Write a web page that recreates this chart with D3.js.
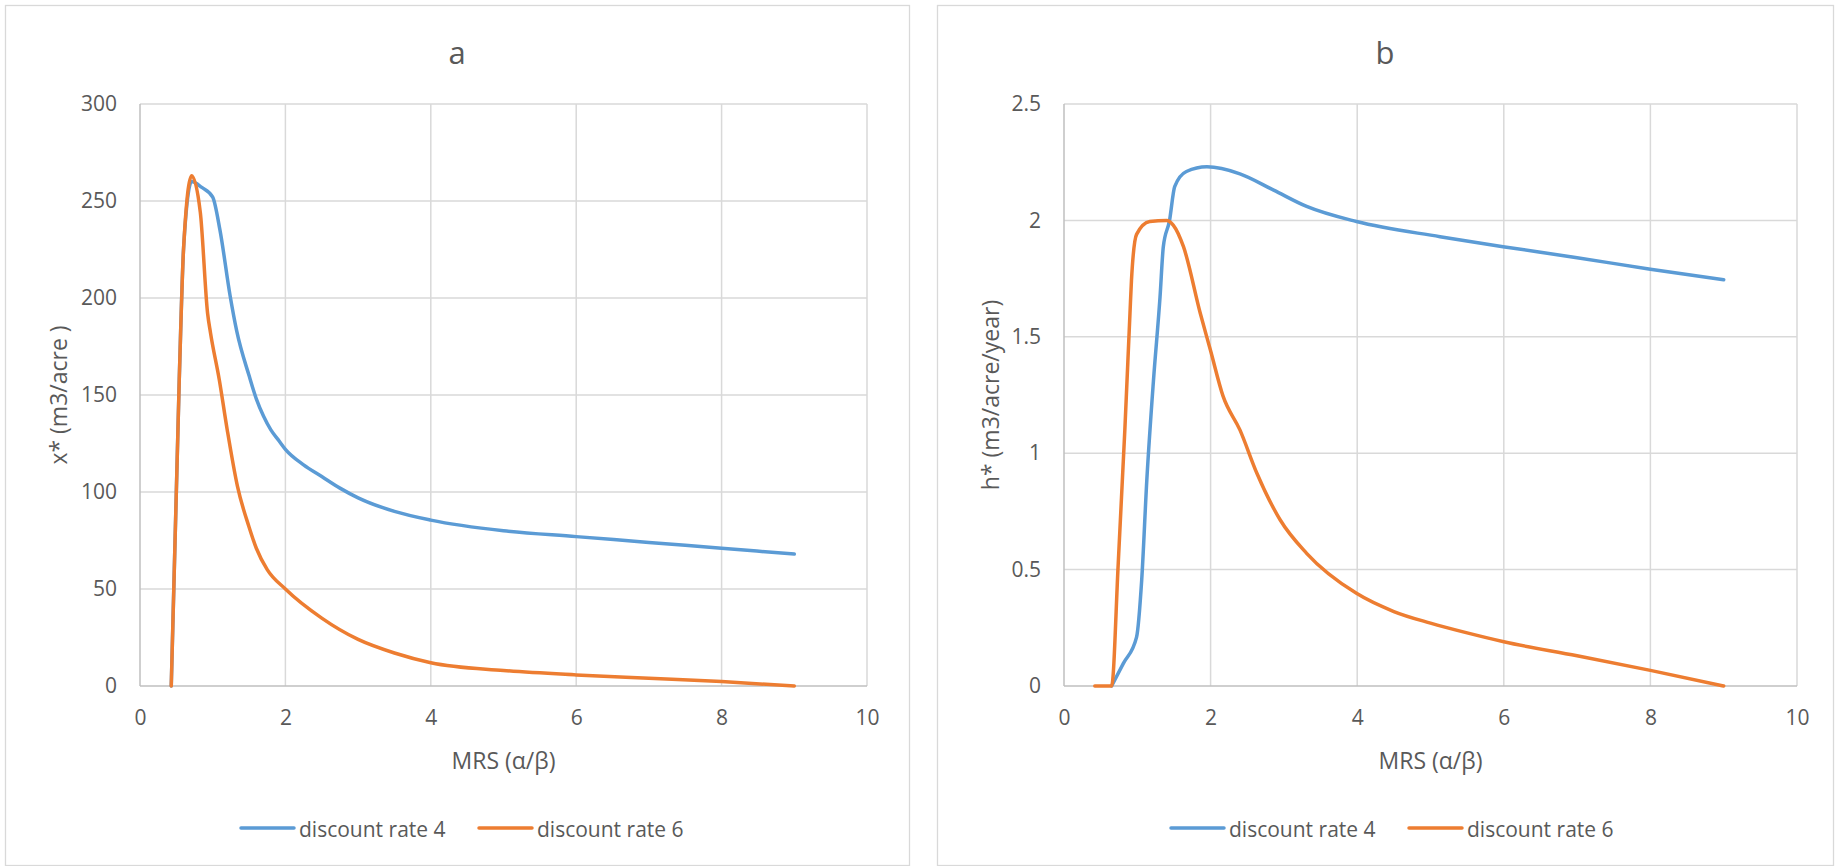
<!DOCTYPE html>
<html>
<head>
<meta charset="utf-8">
<script src="https://cdn.jsdelivr.net/npm/d3@7"></script>
<style>
  html, body { margin: 0; padding: 0; background: #ffffff; }
  svg { display: block; }
  text { font-family: "Open Sans", "Noto Sans", sans-serif; fill: #595959; }
</style>
</head>
<body>
<svg id="chart" width="1838" height="866"></svg>
<script>
// ---------- data ----------
const seriesNames = ["discount rate 4", "discount rate 6"];
const seriesColors = ["#5B9BD5", "#ED7D31"];
const xTicks = [0, 2, 4, 6, 8, 10];
const yTicksA = [0, 50, 100, 150, 200, 250, 300];
const yTicksB = [0, 0.5, 1, 1.5, 2, 2.5];

// panel a: x* (m3/acre)
const aRate4X = [0.43, 0.54, 0.6, 0.71, 0.85, 1.0, 1.1, 1.24, 1.33, 1.5, 1.6, 1.7, 1.8, 1.9, 2.0, 2.25, 2.5, 2.75, 3.0, 3.5, 4.0, 5.0, 6.0, 7.0, 8.0, 9.0];
const aRate4Y = [0, 158, 226, 260, 257, 252, 235, 201, 183, 160, 148, 139, 132, 127, 122, 114, 108, 102, 97, 90, 85.5, 80, 77, 74, 71, 68];
const aRate6X = [0.43, 0.54, 0.6, 0.71, 0.83, 0.93, 0.97, 1.09, 1.2, 1.34, 1.5, 1.6, 1.75, 2.0, 2.5, 3.0, 3.5, 4.0, 5.0, 6.0, 7.0, 8.0, 9.0];
const aRate6Y = [0, 158, 226, 263, 244, 192, 182, 158, 132, 103, 82, 71, 60, 50, 35, 24, 17, 12, 8, 5.7, 4, 2.3, 0];

// panel b: h* (m3/acre/year)
const bRate4X = [0.65, 0.81, 0.99, 1.06, 1.13, 1.22, 1.31, 1.355, 1.44, 1.51, 1.67, 1.95, 2.4, 2.86, 3.31, 3.99, 5.13, 5.99, 7.0, 8.0, 9.0];
const bRate4Y = [0, 0.097, 0.21, 0.455, 0.885, 1.31, 1.67, 1.887, 2.0, 2.145, 2.21, 2.23, 2.20, 2.13, 2.06, 1.995, 1.93, 1.887, 1.84, 1.79, 1.745];
const bRate6X = [0.42, 0.65, 0.74, 0.83, 0.9, 0.92, 0.99, 1.17, 1.4, 1.49, 1.63, 1.86, 2.0, 2.17, 2.4, 2.63, 2.95, 3.31, 3.99, 4.5, 5.0, 5.5, 6.0, 7.0, 8.0, 9.0];
const bRate6Y = [0, 0, 0.527, 1.10, 1.60, 1.74, 1.94, 1.995, 2.0, 1.98, 1.887, 1.60, 1.44, 1.245, 1.10, 0.915, 0.713, 0.57, 0.398, 0.32, 0.27, 0.228, 0.19, 0.13, 0.067, 0];

const panels = [
  { title: "a", yTitle: "x* (m3/acre )", yTicks: yTicksA, yMax: 300,
    box: { x: 5, y: 5, w: 904, h: 860 },
    plot: { l: 140, r: 867, t: 104, b: 686 },
    series: [ {x: aRate4X, y: aRate4Y}, {x: aRate6X, y: aRate6Y} ],
    legendX: 241 },
  { title: "b", yTitle: "h* (m3/acre/year)", yTicks: yTicksB, yMax: 2.5,
    box: { x: 937, y: 5, w: 896, h: 860 },
    plot: { l: 1064, r: 1797, t: 104, b: 686 },
    series: [ {x: bRate4X, y: bRate4Y}, {x: bRate6X, y: bRate6Y} ],
    legendX: 1171 }
];

const svg = d3.select("#chart");

panels.forEach(p => {
  const g = svg.append("g");
  // chart border
  g.append("rect")
    .attr("x", p.box.x + 0.5).attr("y", p.box.y + 0.5)
    .attr("width", p.box.w).attr("height", p.box.h)
    .attr("fill", "#ffffff").attr("stroke", "#d9d9d9").attr("stroke-width", 1.3);

  const x = d3.scaleLinear().domain([0, 10]).range([p.plot.l, p.plot.r]);
  const y = d3.scaleLinear().domain([0, p.yMax]).range([p.plot.b, p.plot.t]);

  // gridlines
  g.append("g").selectAll("line.h").data(p.yTicks.filter(d => d !== 0)).join("line")
    .attr("x1", p.plot.l).attr("x2", p.plot.r)
    .attr("y1", d => y(d)).attr("y2", d => y(d))
    .attr("stroke", "#d9d9d9").attr("stroke-width", 1.5);
  g.append("g").selectAll("line.v").data(xTicks.filter(d => d !== 0)).join("line")
    .attr("x1", d => x(d)).attr("x2", d => x(d))
    .attr("y1", p.plot.t).attr("y2", p.plot.b)
    .attr("stroke", "#d9d9d9").attr("stroke-width", 1.5);
  // axis lines
  g.append("line").attr("x1", p.plot.l).attr("x2", p.plot.l)
    .attr("y1", p.plot.t).attr("y2", p.plot.b)
    .attr("stroke", "#bfbfbf").attr("stroke-width", 1.5);
  g.append("line").attr("x1", p.plot.l).attr("x2", p.plot.r)
    .attr("y1", p.plot.b).attr("y2", p.plot.b)
    .attr("stroke", "#bfbfbf").attr("stroke-width", 1.5);

  // axes (labels only)
  const xAxis = d3.axisBottom(x).tickValues(xTicks).tickSize(0).tickPadding(0).tickFormat(d => String(d));
  const gx = g.append("g").attr("transform", `translate(0,${p.plot.b + 32})`).call(xAxis);
  gx.select(".domain").remove();
  gx.selectAll("text").attr("font-size", 21).attr("fill", "#595959")
    .attr("font-family", "'Open Sans', sans-serif").attr("dy", "0.35em").attr("y", 0);

  const yAxis = d3.axisLeft(y).tickValues(p.yTicks).tickSize(0).tickPadding(0).tickFormat(d => String(d));
  const gy = g.append("g").attr("transform", `translate(${p.plot.l - 23},0)`).call(yAxis);
  gy.select(".domain").remove();
  gy.selectAll("text").attr("font-size", 21).attr("fill", "#595959")
    .attr("font-family", "'Open Sans', sans-serif").attr("x", 0);

  // titles
  const cx = p.box.x + p.box.w / 2;
  g.append("text").attr("x", cx).attr("y", 52).attr("text-anchor", "middle")
    .attr("dominant-baseline", "central").attr("font-size", 31).text(p.title);
  g.append("text").attr("x", (p.plot.l + p.plot.r) / 2).attr("y", 760)
    .attr("text-anchor", "middle").attr("dominant-baseline", "central")
    .attr("font-size", 23).text("MRS (α/β)");
  g.append("text")
    .attr("transform", `translate(${p.box.x + 53},${(p.plot.t + p.plot.b) / 2}) rotate(-90)`)
    .attr("text-anchor", "middle").attr("dominant-baseline", "central")
    .attr("font-size", 23).text(p.yTitle);

  // lines
  const line = d3.line().x(d => x(d[0])).y(d => y(d[1])).curve(d3.curveMonotoneX);
  p.series.forEach((s, i) => {
    const pts = s.x.map((v, k) => [v, s.y[k]]);
    g.append("path").datum(pts).attr("d", line)
      .attr("fill", "none").attr("stroke", seriesColors[i])
      .attr("stroke-width", 3.5).attr("stroke-linejoin", "round").attr("stroke-linecap", "round");
  });

  // legend
  let lx = p.legendX;
  seriesNames.forEach((name, i) => {
    g.append("line").attr("x1", lx).attr("x2", lx + 53).attr("y1", 828).attr("y2", 828)
      .attr("stroke", seriesColors[i]).attr("stroke-width", 3.5).attr("stroke-linecap", "round");
    g.append("text").attr("x", lx + 58).attr("y", 829)
      .attr("dominant-baseline", "central").attr("font-size", 21).text(name);
    lx = lx + 238;
  });
});
</script>
</body>
</html>
